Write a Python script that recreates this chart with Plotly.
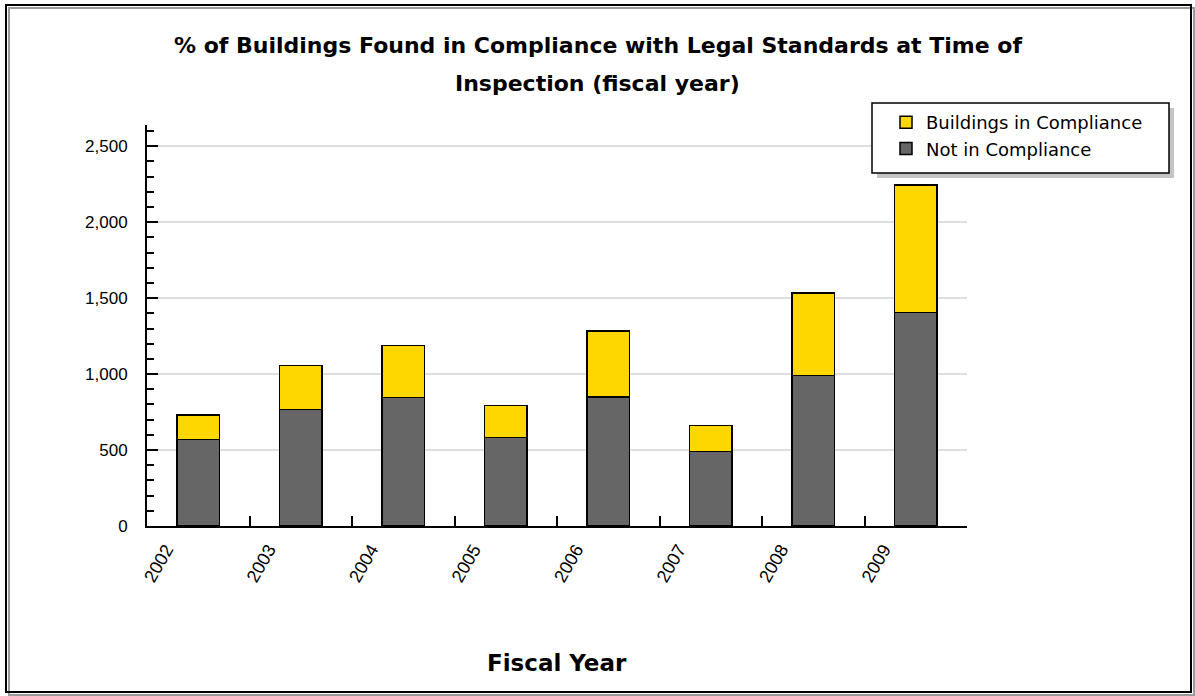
import plotly.graph_objects as go

years = ["2002", "2003", "2004", "2005", "2006", "2007", "2008", "2009"]
not_in_compliance = [570, 768, 847, 583, 849, 491, 992, 1405]
in_compliance = [160, 290, 343, 211, 435, 171, 543, 840]

title_lines = [
    "% of Buildings Found in Compliance with Legal Standards at Time of",
    "Inspection (fiscal year)",
]

# plot area in pixels: x 147..967, y 125..526
L, R, T, B = 147, 967, 125, 526
W, H = 1195, 696


def px(x):
    return (x - L) / (R - L)


def py(y):
    return (B - y) / (B - T)


fig = go.Figure()

fig.add_trace(go.Bar(
    x=years, y=not_in_compliance, name="Not in Compliance",
    marker=dict(color="#666666", line=dict(color="black", width=1.5)),
))
fig.add_trace(go.Bar(
    x=years, y=in_compliance, name="Buildings in Compliance",
    marker=dict(color="#FFD700", line=dict(color="black", width=1.5)),
))

font = "Liberation Sans, Arial, sans-serif"
wide = "DejaVu Sans, Verdana, sans-serif"

shapes = [
    # outer frame with shadow
    dict(type="rect", xref="paper", yref="paper",
         x0=px(9), x1=px(1194), y0=py(695), y1=py(8),
         line=dict(color="#9a9a9a", width=2), layer="below"),
    dict(type="rect", xref="paper", yref="paper",
         x0=px(6), x1=px(1191), y0=py(692), y1=py(5),
         line=dict(color="black", width=2), layer="below"),
    # legend box with shadow
    dict(type="rect", xref="paper", yref="paper",
         x0=px(877), x1=px(1174), y0=py(178), y1=py(108),
         fillcolor="#c4c4c4", line=dict(width=0), layer="above"),
    dict(type="rect", xref="paper", yref="paper",
         x0=px(872), x1=px(1169), y0=py(173), y1=py(103),
         fillcolor="white", line=dict(color="black", width=1.5), layer="above"),
]

annotations = [
    dict(text="<b>" + title_lines[0] + "</b>", xref="paper", yref="paper",
         x=px(W / 2), y=py(45), xanchor="center", yanchor="middle",
         showarrow=False, font=dict(family=wide, size=22, color="black")),
    dict(text="<b>" + title_lines[1] + "</b>", xref="paper", yref="paper",
         x=px(W / 2), y=py(83), xanchor="center", yanchor="middle",
         showarrow=False, font=dict(family=wide, size=22, color="black")),
    dict(text="<b>Fiscal Year</b>", xref="paper", yref="paper",
         x=0.5, y=py(663), xanchor="center", yanchor="middle",
         showarrow=False, font=dict(family=wide, size=23, color="black")),
]

fig.update_layout(
    width=W, height=H,
    margin=dict(l=L, r=W - R, t=T, b=H - B, pad=0),
    barmode="stack",
    bargap=0.59,
    paper_bgcolor="white",
    plot_bgcolor="white",
    font=dict(family=font, size=17, color="black"),
    showlegend=True,
    legend=dict(
        x=px(886), y=py(104), xanchor="left", yanchor="top",
        bgcolor="rgba(0,0,0,0)", borderwidth=0,
        font=dict(family=wide, size=18), traceorder="reversed",
        itemwidth=30, tracegroupgap=0,
    ),
    shapes=shapes,
    annotations=annotations,
    xaxis=dict(
        type="category",
        showline=True, linecolor="black", linewidth=2,
        ticks="inside", tickson="boundaries", ticklen=10, tickwidth=2,
        tickcolor="black",
        tickangle=-60, tickfont=dict(size=18),
        ticklabelshift=-32, ticklabelstandoff=4,
        showgrid=False, zeroline=False,
    ),
    yaxis=dict(
        range=[0, 2640],
        dtick=500, tickformat=",",
        showline=True, linecolor="black", linewidth=2,
        ticks="inside", ticklen=11, tickwidth=2, tickcolor="black",
        minor=dict(dtick=100, ticks="inside", ticklen=7, tickwidth=2,
                   tickcolor="black", showgrid=False),
        showgrid=True, gridcolor="#dedede", gridwidth=1.5,
        zeroline=False,
        ticklabelstandoff=14, tickfont=dict(size=17),
    ),
)

fig.write_html("out.html", config={"displayModeBar": False},
               post_script="document.body.style.margin='0';")
